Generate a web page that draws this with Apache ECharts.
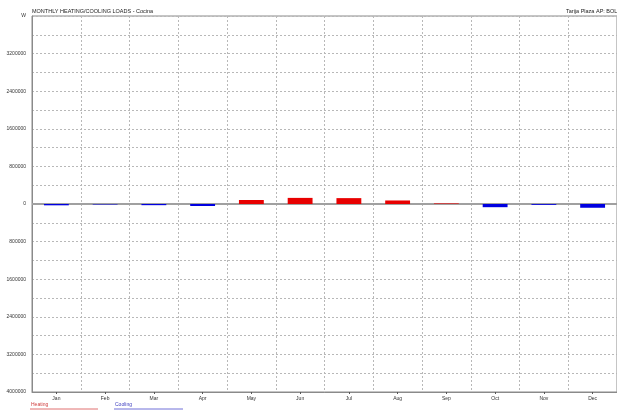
<!DOCTYPE html>
<html>
<head>
<meta charset="utf-8">
<script src="https://cdn.jsdelivr.net/npm/echarts@6/dist/echarts.min.js"></script>
<style>
  html, body { margin: 0; padding: 0; background: #fff; }
  #chart { width: 617px; height: 411px; }
</style>
</head>
<body>
<div id="chart"></div>
<script>
// Monthly loads for the zone (W); heating positive, cooling negative
const months = ['Jan', 'Feb', 'Mar', 'Apr', 'May', 'Jun', 'Jul', 'Aug', 'Sep', 'Oct', 'Nov', 'Dec'];
const heating = [0, 0, 0, 0, 85000, 130000, 125000, 75000, 12000, 0, 0, 0];
const cooling = [-28000, -10000, -25000, -42000, 0, 0, 0, 0, 0, -68000, -18000, -80000];
const yMin = -4000000;
const yMax = 4000000;
const yStep = 800000;

const chart = echarts.init(document.getElementById('chart'), null, { renderer: 'canvas' });

const gridColor = '#b8b8b8';
const axisColor = '#8a8a8a';
const font = 'Liberation Sans, Arial, sans-serif';

chart.setOption({
  animation: false,
  backgroundColor: '#ffffff',
  grid: { left: 32, right: -7, top: 16, bottom: 19, show: true, borderColor: axisColor, borderWidth: 1 },
  xAxis: {
    type: 'category',
    data: months,
    position: 'bottom',
    axisLine: { onZero: false, lineStyle: { color: axisColor, width: 1 } },
    axisTick: { show: true, alignWithLabel: true, length: 2, lineStyle: { color: '#555' } },
    axisLabel: { fontSize: 5, color: '#333', fontFamily: font, margin: 4 },
    splitLine: { show: true, interval: 0, lineStyle: { color: gridColor, type: [2, 2], width: 1 } }
  },
  yAxis: {
    type: 'value',
    min: yMin,
    max: yMax,
    interval: yStep,
    axisLine: { show: true, lineStyle: { color: axisColor, width: 1 } },
    axisTick: { show: false },
    axisLabel: {
      fontSize: 5, color: '#333', fontFamily: font, margin: 6,
      formatter: v => (v === yMax ? 'W' : String(Math.abs(v)))
    },
    splitLine: { show: true, lineStyle: { color: gridColor, type: [2, 2], width: 1 } },
    minorTick: { show: false, splitNumber: 2 },
    minorSplitLine: { show: true, lineStyle: { color: gridColor, type: [2, 2], width: 1 } }
  },
  series: [
    {
      name: 'Heating',
      type: 'bar',
      data: heating,
      barWidth: '51%',
      barGap: '-100%',
      itemStyle: { color: '#e80000' },
      z: 2
    },
    {
      name: 'Cooling',
      type: 'bar',
      data: cooling,
      barWidth: '51%',
      itemStyle: { color: '#0000e0' },
      z: 2,
      markLine: {
        silent: true,
        symbol: 'none',
        label: { show: false },
        lineStyle: { color: '#a0a0a0', width: 2, type: 'solid' },
        data: [{ yAxis: 0 }],
        z: 1
      }
    }
  ],
  graphic: [
    { type: 'text', left: 32, top: 8, style: { text: 'MONTHLY HEATING/COOLING LOADS - Cocina', fontSize: 5.5, fill: '#222', fontFamily: font } },
    { type: 'text', left: 566, top: 8, style: { text: 'Tarija Plaza AP: BOL', fontSize: 5.5, fill: '#222', fontFamily: font } },
    { type: 'text', left: 31, top: 402, style: { text: 'Heating', fontSize: 5, fill: '#d04040', fontFamily: font } },
    { type: 'line', shape: { x1: 30, y1: 409, x2: 98, y2: 409 }, style: { stroke: '#e07070', lineWidth: 1 } },
    { type: 'text', left: 115, top: 402, style: { text: 'Cooling', fontSize: 5, fill: '#4040c0', fontFamily: font } },
    { type: 'line', shape: { x1: 114, y1: 409, x2: 183, y2: 409 }, style: { stroke: '#7070d8', lineWidth: 1 } }
  ]
});
</script>
</body>
</html>
